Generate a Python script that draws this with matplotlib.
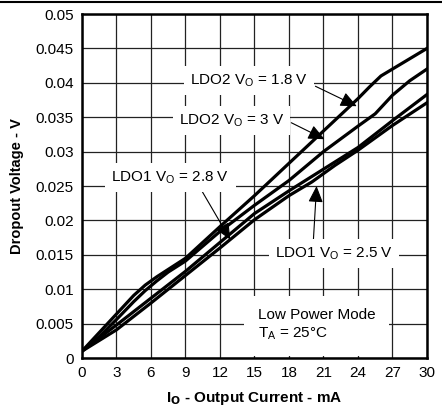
import numpy as np
import matplotlib
matplotlib.use("Agg")
import matplotlib.pyplot as plt
from matplotlib.lines import Line2D

plt.rcParams['font.family'] = ['Liberation Sans', 'DejaVu Sans']

# output current (mA) and dropout voltage (V)
i_a = [0, 1.5, 3, 4.5, 5.5, 6.5, 9, 12, 15, 18, 21, 24, 25, 26, 27, 28.5, 30]
v_ldo2_18 = [0.001, 0.0037, 0.0064, 0.0091, 0.0106, 0.0118, 0.0145, 0.0191, 0.0236,
             0.0283, 0.0330, 0.0377, 0.0394, 0.0410, 0.0420, 0.0435, 0.045]

i_b = [0, 1.5, 3, 4.5, 5.5, 6.5, 7.5, 9, 12, 15, 18, 21, 24, 25.5, 27, 28.5, 30]
v_ldo2_3 = [0.001, 0.0031, 0.0056, 0.0082, 0.0098, 0.0112, 0.0125, 0.0141, 0.0184, 0.0222,
            0.0258, 0.0300, 0.0337, 0.0355, 0.0382, 0.0403, 0.042]

i_c = [0, 3, 6, 9, 12, 15, 18, 20, 22, 24, 27, 30]
v_ldo1_28 = [0.001, 0.0048, 0.0087, 0.0126, 0.0168, 0.0210, 0.0243, 0.0264, 0.0285, 0.0306, 0.0345, 0.0383]
v_ldo1_25 = [0.001, 0.0041, 0.0080, 0.0120, 0.0160, 0.0201, 0.0236, 0.0256, 0.0280, 0.0302, 0.0338, 0.0371]

xticks = np.arange(0, 31, 3)
yticks = [0, 0.005, 0.01, 0.015, 0.02, 0.025, 0.03, 0.035, 0.04, 0.045, 0.05]
ytick_labels = ['0', '0.005', '0.01', '0.015', '0.02', '0.025', '0.03', '0.035', '0.04', '0.045', '0.05']

fs = 11

fig = plt.figure(figsize=(4.42, 4.12), dpi=100)
ax = fig.add_axes([0.1855, 0.131, 0.7805, 0.835])

# header rule across the top
fig.add_artist(Line2D([0, 1], [0.995, 0.995], transform=fig.transFigure, color='black', lw=1.5))

ax.set_xlim(0, 30)
ax.set_ylim(0, 0.05)
ax.set_xticks(xticks)
ax.set_yticks(yticks)
ax.set_yticklabels(ytick_labels)
ax.tick_params(length=0, labelsize=fs, pad=6)
ax.grid(True, color='#222222', lw=0.9)
ax.set_axisbelow(True)
for s in ax.spines.values():
    s.set_linewidth(1.8)

lw = 2.3
ax.plot(i_a, v_ldo2_18, color='black', lw=lw, zorder=3)
ax.plot(i_b, v_ldo2_3, color='black', lw=lw, zorder=3)
ax.plot(i_c, v_ldo1_28, color='black', lw=lw, zorder=3)
ax.plot(i_c, v_ldo1_25, color='black', lw=lw, zorder=3)

arrow = dict(arrowstyle='-|>,head_length=1.0,head_width=0.45', color='black', lw=0.8,
             shrinkA=0, shrinkB=0)
box = dict(boxstyle='square,pad=0.4', fc='white', ec='none')

# label texts with white boxes, arrows pointing at the curves
ax.annotate('', xy=(23.9, 0.0366), xytext=(20.3, 0.0395), arrowprops=arrow, zorder=4)
ax.text(14.5, 0.0403, 'LDO2 V$_\\mathregular{O}$ = 1.8 V', ha='center', va='center',
        fontsize=fs, bbox=box, zorder=5)

ax.annotate('', xy=(21.1, 0.0318), xytext=(18.2, 0.0342), arrowprops=arrow, zorder=4)
ax.text(13.0, 0.0345, 'LDO2 V$_\\mathregular{O}$ = 3 V', ha='center', va='center',
        fontsize=fs, bbox=box, zorder=5)

ax.annotate('', xy=(12.9, 0.0172), xytext=(10.0, 0.0255), arrowprops=arrow, zorder=4)
ax.text(7.7, 0.0262, 'LDO1 V$_\\mathregular{O}$ = 2.8 V', ha='center', va='center',
        fontsize=fs, bbox=box, zorder=5)

ax.annotate('', xy=(20.4, 0.0250), xytext=(20.1, 0.0165), arrowprops=arrow, zorder=4)
ax.text(21.9, 0.0152, 'LDO1 V$_\\mathregular{O}$ = 2.5 V', ha='center', va='center',
        fontsize=fs, bbox=box, zorder=5)

ax.text(15.3, 0.0048, 'Low Power Mode\nT$_\\mathregular{A}$ = 25°C', ha='left', va='center',
        fontsize=fs, linespacing=1.35, zorder=5,
        bbox=dict(boxstyle='square,pad=0.9', fc='white', ec='none'))

ax.set_xlabel('I$_\\mathbf{O}$ - Output Current - mA', fontsize=fs, fontweight='bold', labelpad=7)
ax.set_ylabel('Dropout Voltage - V', fontsize=10.5, fontweight='bold', labelpad=8)

fig.savefig('out.png', dpi=100)
